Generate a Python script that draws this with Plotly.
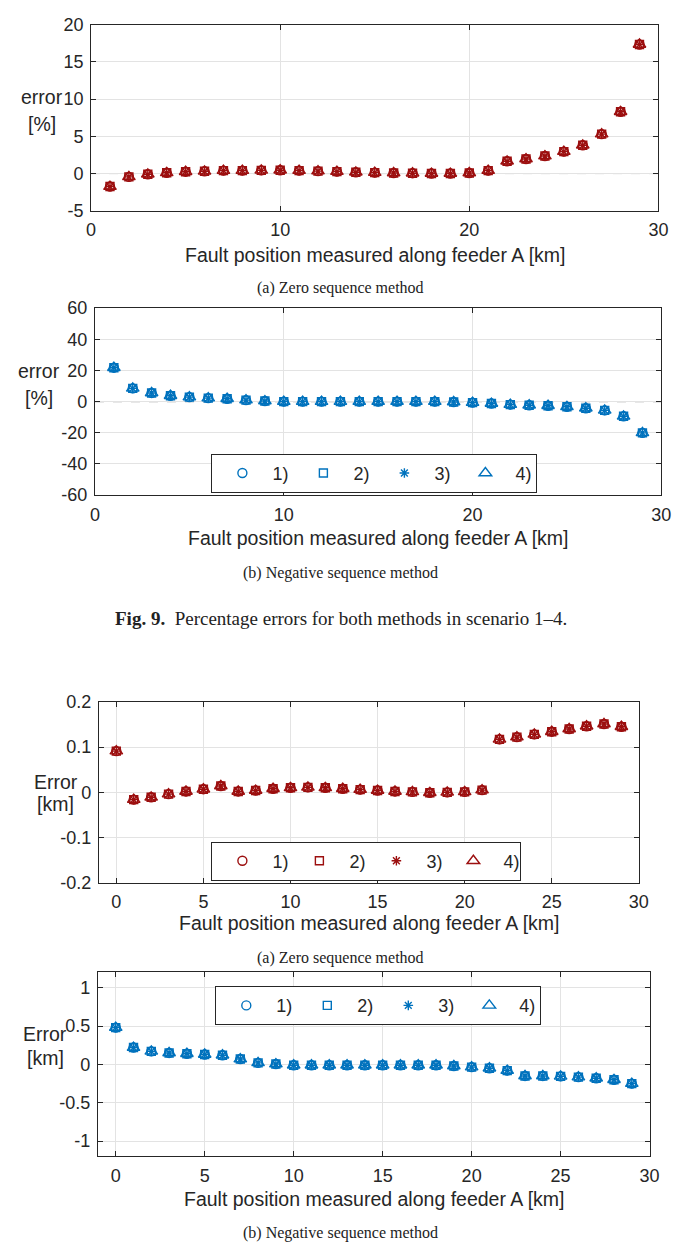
import plotly.graph_objects as go

# ---------------- data ----------------
x_pct = list(range(1, 30))
x_km = list(range(0, 30))

# Fig 9 (a) zero sequence, percentage error [%]
zero_pct = [-1.75, -0.45, -0.1, 0.1, 0.25, 0.3, 0.4, 0.4, 0.43, 0.45, 0.4, 0.32, 0.26, 0.17,
            0.13, 0.08, 0.05, 0.0, 0.0, 0.08, 0.4, 1.65, 1.95, 2.35, 2.95, 3.8, 5.3, 8.3, 17.35]
# Fig 9 (b) negative sequence, percentage error [%]
neg_pct = [21.8, 8.5, 5.6, 3.8, 2.9, 2.3, 1.9, 1.0, 0.4, 0.0, 0.0, 0.0, 0.0, 0.0, 0.0,
           0.0, 0.0, 0.0, -0.2, -0.6, -1.2, -1.9, -2.3, -2.6, -3.3, -4.2, -5.6, -9.4, -20.0]
# Fig 10 (a) zero sequence, error [km]
zero_km = [0.091, -0.016, -0.011, -0.004, 0.002, 0.007, 0.014, 0.002, 0.004, 0.008, 0.010,
           0.011, 0.010, 0.008, 0.006, 0.004, 0.002, 0.001, -0.001, 0.0, 0.001, 0.005,
           0.117, 0.122, 0.128, 0.134, 0.140, 0.146, 0.151, 0.145]
# Fig 10 (b) negative sequence, error [km]
neg_km = [0.48, 0.22, 0.17, 0.15, 0.14, 0.13, 0.12, 0.07, 0.02, 0.005, -0.01, -0.01, -0.01,
          -0.01, -0.01, -0.01, -0.01, -0.01, -0.01, -0.02, -0.035, -0.05, -0.08, -0.15,
          -0.15, -0.155, -0.165, -0.18, -0.2, -0.25]

scenarios = ["1)", "2)", "3)", "4)"]
symbols = ["circle-open", "square-open", "asterisk-open", "triangle-up-open"]
sizes = [9, 8, 8, 11]

RED = "#9c0f0f"
BLUE = "#0072BD"

yt1 = [-5, 0, 5, 10, 15, 20]
yt1_txt = ["-5", "0", "5", "10", "15", "20"]
yt2 = [-60, -40, -20, 0, 20, 40, 60]
yt2_txt = ["-60", "-40", "-20", "0", "20", "40", "60"]
yt3 = [-0.2, -0.1, 0, 0.1, 0.2]
yt3_txt = ["-0.2", "-0.1", "0", "0.1", "0.2"]
yt4 = [-1, -0.5, 0, 0.5, 1]
yt4_txt = ["-1", "-0.5", "0", "0.5", "1"]
xt_a = [0, 10, 20, 30]
xt_b = [0, 5, 10, 15, 20, 25, 30]

# ---------------- layout constants ----------------
W, H = 686, 1256


def fx(px):
    return px / W


def fy(py):
    return 1 - py / H


boxes = {  # left, right, top, bottom in pixels
    1: (88, 668, 15, 204),
    2: (92, 671, 303, 493),
    3: (96, 648, 703, 887),
    4: (95, 659, 978, 1165),
}

TICKFONT = dict(family="Liberation Sans, Arial, sans-serif", size=18, color="#262626")
SERIF = "Liberation Serif, Times New Roman, serif"

fig = go.Figure()

panels = [
    (1, x_pct, zero_pct, RED, None),
    (2, x_pct, neg_pct, BLUE, "legend"),
    (3, x_km, zero_km, RED, "legend2"),
    (4, x_km, neg_km, BLUE, "legend3"),
]

for idx, xs, ys, col, leg in panels:
    xa = "x" if idx == 1 else f"x{idx}"
    ya = "y" if idx == 1 else f"y{idx}"
    for name, sym, sz in zip(scenarios, symbols, sizes):
        fig.add_trace(go.Scatter(
            x=xs, y=ys, mode="markers", name=name,
            xaxis=xa, yaxis=ya,
            marker=dict(symbol=sym, size=sz, color=col, line=dict(color=col, width=1.4)),
            showlegend=leg is not None,
            legend=leg if leg else "legend",
        ))

axis_common = dict(
    showline=True, linecolor="#262626", linewidth=1, mirror="ticks",
    ticks="inside", ticklen=5, tickcolor="#262626",
    showgrid=True, gridcolor="#e3e3e3", gridwidth=1,
    zeroline=False, tickfont=TICKFONT,
)

yinfo = {1: ([-5, 20], yt1, yt1_txt), 2: ([-60, 60], yt2, yt2_txt),
         3: ([-0.2, 0.2], yt3, yt3_txt), 4: ([-1.2, 1.2], yt4, yt4_txt)}
xinfo = {1: ([0, 30], xt_a), 2: ([0, 30], xt_a), 3: ([-1, 30], xt_b), 4: ([-1, 30], xt_b)}

for idx in range(1, 5):
    l, r, t, b = boxes[idx]
    sfx = "" if idx == 1 else str(idx)
    yr, yv, ytx = yinfo[idx]
    xr, xv = xinfo[idx]
    fig.update_layout(**{
        f"xaxis{sfx}": dict(axis_common, domain=[fx(l), fx(r)], range=xr,
                            tickvals=xv, anchor=f"y{sfx}", ticklabelstandoff=3),
        f"yaxis{sfx}": dict(axis_common, domain=[fy(b), fy(t)], range=yr,
                            tickvals=yv, ticktext=ytx, anchor=f"x{sfx}", ticklabelstandoff=3),
    })

# dashed zero reference lines (Fig 9)
for idx in (1, 2):
    sfx = "" if idx == 1 else str(idx)
    fig.add_shape(type="line", xref=f"x{sfx}", yref=f"y{sfx}", x0=0, x1=30, y0=0, y1=0,
                  line=dict(color="#6a6a6a", width=1, dash="dash"), layer="below")

annos = []
xtitle = "Fault position measured along feeder A [km]"
xtitle_y = {1: 249, 2: 537, 3: 928, 4: 1208}
ylab = {1: ("error", "[%]", 38, 88, 116), 2: ("error", "[%]", 35, 367, 394),
        3: ("Error", "[km]", 52, 784, 807), 4: ("Error", "[km]", 41, 1041, 1065)}
for idx in range(1, 5):
    l, r, t, b = boxes[idx]
    annos.append(dict(x=fx((l + r) / 2), y=fy(xtitle_y[idx]), xref="paper", yref="paper",
                      text=xtitle, showarrow=False, xanchor="center", yanchor="middle",
                      font=dict(TICKFONT, size=19.5)))
    w1, w2, cx, y1, y2 = ylab[idx]
    annos.append(dict(x=fx(cx), y=fy(y1), xref="paper", yref="paper", text=w1, showarrow=False,
                      xanchor="center", yanchor="middle", font=dict(TICKFONT, size=19.5)))
    annos.append(dict(x=fx(cx), y=fy(y2), xref="paper", yref="paper", text=w2, showarrow=False,
                      xanchor="center", yanchor="middle", font=dict(TICKFONT, size=19.5)))

captions = [("(a) Zero sequence method", 283), ("(b) Negative sequence method", 572),
            ("(a) Zero sequence method", 963), ("(b) Negative sequence method", 1243)]
for txt, py in captions:
    annos.append(dict(x=0.5, y=fy(py), xref="paper", yref="paper", text=txt, showarrow=False,
                      xanchor="center", yanchor="middle",
                      font=dict(family=SERIF, size=16, color="#222222")))
annos.append(dict(x=0.5, y=fy(618), xref="paper", yref="paper",
                  text="<b>Fig. 9.</b>  Percentage errors for both methods in scenario 1–4.",
                  showarrow=False, xanchor="center", yanchor="middle",
                  font=dict(family=SERIF, size=19, color="#222222")))

legend_style = dict(orientation="h", xref="paper", yref="paper", xanchor="left", yanchor="top",
                    bgcolor="white", bordercolor="#262626", borderwidth=1,
                    font=dict(TICKFONT, size=18), itemwidth=50, entrywidth=16,
                    itemclick=False, itemdoubleclick=False)

fig.update_layout(
    width=W, height=H, margin=dict(l=0, r=0, t=0, b=0),
    paper_bgcolor="white", plot_bgcolor="white",
    annotations=annos,
    legend=dict(legend_style, x=fx(211), y=fy(451)),
    legend2=dict(legend_style, x=fx(211), y=fy(845), entrywidth=12),
    legend3=dict(legend_style, x=fx(215), y=fy(992)),
)

fig.write_html("out.html")
